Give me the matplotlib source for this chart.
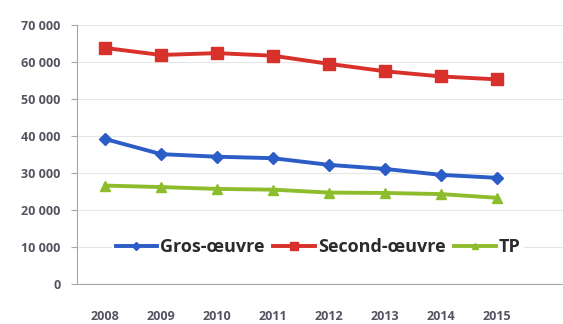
import matplotlib.pyplot as plt

plt.rcParams['font.family'] = ['Open Sans', 'DejaVu Sans']

years = ['2008', '2009', '2010', '2011', '2012', '2013', '2014', '2015']
gros_oeuvre = [39200, 35100, 34400, 34000, 32200, 31100, 29500, 28700]
second_oeuvre = [63800, 61900, 62400, 61700, 59500, 57500, 56100, 55300]
tp = [26600, 26200, 25700, 25500, 24700, 24600, 24300, 23300]
yticks = [0, 10000, 20000, 30000, 40000, 50000, 60000, 70000]
ytick_labels = ['0', '10 000', '20 000', '30 000', '40 000', '50 000', '60 000', '70 000']

W, H = 563, 324
fig = plt.figure(figsize=(W / 100, H / 100), dpi=100)
ax = fig.add_axes([77 / W, 1 - 284 / H, 1 - 77 / W, (284 - 25) / H])

x = list(range(len(years)))
ax.plot(x, gros_oeuvre, color='#2c5cc5', lw=2.8, marker='D', ms=6,
        label='Gros-œuvre', zorder=3)
ax.plot(x, second_oeuvre, color='#d8302a', lw=2.8, marker='s', ms=8,
        label='Second-œuvre', zorder=3)
ax.plot(x, tp, color='#8dbd2c', lw=2.8, marker='^', ms=7,
        label='TP', zorder=3)

ax.set_ylim(0, 70000)
ax.set_xlim(-0.5, 8.18)
ax.set_yticks(yticks)
ax.set_yticklabels(ytick_labels)
ax.set_xticks(x)
ax.set_xticklabels(years)
ax.grid(axis='y', color='#e6e6e6', lw=0.8, zorder=0)

for s in ['top', 'right']:
    ax.spines[s].set_visible(False)
ax.spines['left'].set_color('#a6a6a6')
ax.spines['bottom'].set_color('#a6a6a6')
ax.tick_params(axis='y', length=4, color='#a6a6a6', labelsize=9,
               labelcolor='#55535f', pad=8)
ax.tick_params(axis='x', length=0, labelsize=9, labelcolor='#55535f', pad=19)
for lab in ax.get_xticklabels() + ax.get_yticklabels():
    lab.set_fontweight('bold')

leg = ax.legend(loc='center', bbox_to_anchor=(318 / W, 1 - 247 / H),
                bbox_transform=fig.transFigure, ncol=3, frameon=True,
                edgecolor='none', facecolor='white', framealpha=1,
                prop={'weight': 'bold', 'size': 13}, handlelength=2.3,
                handletextpad=0.15, columnspacing=0.5, borderpad=0.2,
                markerscale=0.65)
for t in leg.get_texts():
    t.set_color('#2b2b2b')

fig.savefig('out.png', dpi=100, facecolor='white')
